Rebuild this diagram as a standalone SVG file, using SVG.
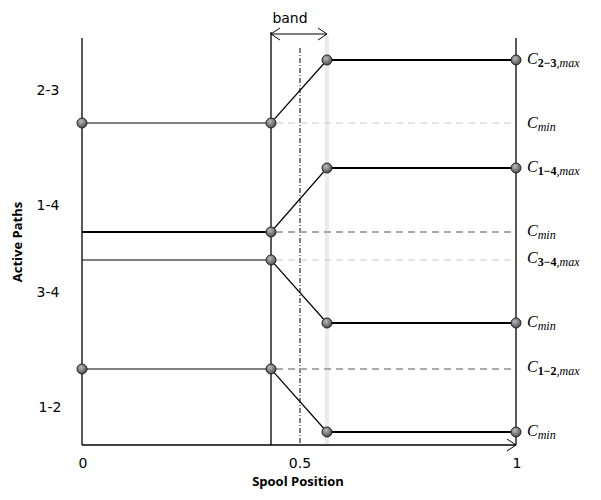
<svg xmlns="http://www.w3.org/2000/svg" width="601" height="500" viewBox="0 0 601 500">
<style>
.ax{stroke:#000;stroke-width:1.3;fill:none}
.thin{stroke:#000;stroke-width:1.2;fill:none}
.thick{stroke:#000;stroke-width:2.2;fill:none}
.dl{stroke:#c8c8c8;stroke-width:1;stroke-dasharray:7,5;fill:none}
.dd{stroke:#aaa;stroke-width:1.8;stroke-dasharray:7,5;fill:none}
.lbl{font-family:"DejaVu Sans","Liberation Sans",sans-serif;font-size:14px;fill:#000}
.bold{font-family:"Open Sans","DejaVu Sans",sans-serif;font-size:13px;font-weight:bold;fill:#000}
.c{font-family:"Liberation Serif","DejaVu Serif",serif;font-size:16px;font-style:italic;fill:#000}
.sub{font-size:12px}
.up{font-style:normal;font-weight:bold}
.dot{fill:url(#g);stroke:#222;stroke-width:1}
</style>
<defs>
<radialGradient id="g" cx="0.4" cy="0.35" r="0.7">
<stop offset="0" stop-color="#bbb"/>
<stop offset="1" stop-color="#444"/>
</radialGradient>
<marker id="oa" markerWidth="12" markerHeight="14" refX="10" refY="7" orient="auto-start-reverse" markerUnits="userSpaceOnUse">
<path d="M1,1 L10,7 L1,13" fill="none" stroke="#000" stroke-width="1"/>
</marker>
</defs>
<rect width="601" height="500" fill="#fff"/>
<g id="axes">
<line x1="327" y1="36" x2="327" y2="445" stroke="#ebebeb" stroke-width="4"/>
<line class="ax" x1="82" y1="38" x2="82" y2="445"/>
<line class="ax" x1="271" y1="32" x2="271" y2="445"/>
<line class="ax" x1="516" y1="38" x2="516" y2="445"/>
<line x1="300" y1="48" x2="300" y2="445" stroke="#000" stroke-width="1" stroke-dasharray="5,2,1,2"/>
<line class="ax" x1="82" y1="445" x2="516" y2="445" marker-end="url(#oa)"/>
<line x1="271" y1="34" x2="327" y2="34" stroke="#000" stroke-width="1" marker-start="url(#oa)" marker-end="url(#oa)"/>
</g>
<g id="connectors">
<line class="dl" x1="276" y1="123" x2="516" y2="123"/>
<line class="dd" x1="276" y1="232" x2="516" y2="232"/>
<line class="dl" x1="276" y1="260" x2="516" y2="260"/>
<line class="dd" x1="276" y1="369" x2="516" y2="369"/>
<polyline class="thin" points="82,123 271,123 327,60"/>
<line class="thick" x1="327" y1="60" x2="516" y2="60"/>
<line class="thick" x1="82" y1="232" x2="271" y2="232"/>
<line class="thin" x1="271" y1="232" x2="327" y2="168"/>
<line class="thick" x1="327" y1="168" x2="516" y2="168"/>
<polyline class="thin" points="82,260 271,260 327,323"/>
<line class="thick" x1="327" y1="323" x2="516" y2="323"/>
<polyline class="thin" points="82,369 271,369 327,432"/>
<line class="thick" x1="327" y1="432" x2="516" y2="432"/>
</g>
<g id="dots">
<circle class="dot" cx="82" cy="123" r="5"/>
<circle class="dot" cx="271" cy="123" r="5"/>
<circle class="dot" cx="327" cy="60" r="5"/>
<circle class="dot" cx="516" cy="60" r="5"/>
<circle class="dot" cx="271" cy="232" r="5"/>
<circle class="dot" cx="327" cy="168" r="5"/>
<circle class="dot" cx="516" cy="168" r="5"/>
<circle class="dot" cx="271" cy="260" r="5"/>
<circle class="dot" cx="327" cy="323" r="5"/>
<circle class="dot" cx="516" cy="323" r="5"/>
<circle class="dot" cx="82" cy="369" r="5"/>
<circle class="dot" cx="271" cy="369" r="5"/>
<circle class="dot" cx="327" cy="432" r="5"/>
<circle class="dot" cx="516" cy="432" r="5"/>
</g>
<g id="labels">
<text class="lbl" x="290" y="23" text-anchor="middle" font-size="13">band</text>
<text class="lbl" x="48" y="95" text-anchor="middle">2-3</text>
<text class="lbl" x="48" y="210" text-anchor="middle">1-4</text>
<text class="lbl" x="48" y="297" text-anchor="middle">3-4</text>
<text class="lbl" x="50" y="412" text-anchor="middle">1-2</text>
<text class="bold" transform="translate(22,242) rotate(-90)" text-anchor="middle">Active Paths</text>
<text class="lbl" x="83" y="468" text-anchor="middle" font-size="12">0</text>
<text class="lbl" x="300" y="468" text-anchor="middle" font-size="12">0.5</text>
<text class="lbl" x="517" y="468" text-anchor="middle" font-size="12">1</text>
<text class="bold" x="298" y="486" text-anchor="middle" font-size="14">Spool Position</text>
<text class="c" x="527" y="64">C<tspan class="sub" dy="3"><tspan class="up">2−3</tspan>,max</tspan></text>
<text class="c" x="527" y="128">C<tspan class="sub" dy="3">min</tspan></text>
<text class="c" x="527" y="172">C<tspan class="sub" dy="3"><tspan class="up">1−4</tspan>,max</tspan></text>
<text class="c" x="527" y="236">C<tspan class="sub" dy="3">min</tspan></text>
<text class="c" x="527" y="263">C<tspan class="sub" dy="3"><tspan class="up">3−4</tspan>,max</tspan></text>
<text class="c" x="527" y="327">C<tspan class="sub" dy="3">min</tspan></text>
<text class="c" x="527" y="372">C<tspan class="sub" dy="3"><tspan class="up">1−2</tspan>,max</tspan></text>
<text class="c" x="527" y="436">C<tspan class="sub" dy="3">min</tspan></text>
</g>
</svg>
